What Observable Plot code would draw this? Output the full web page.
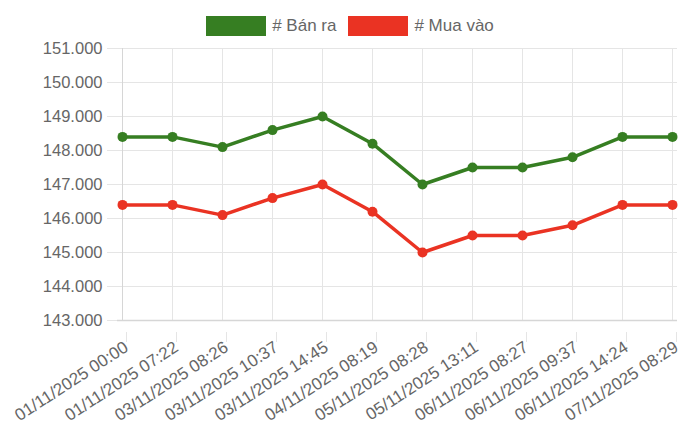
<!DOCTYPE html>
<html><head><meta charset="utf-8">
<script src="https://cdn.jsdelivr.net/npm/d3@7"></script>
<script src="https://cdn.jsdelivr.net/npm/@observablehq/plot@0.6"></script>
<style>
html,body{margin:0;background:#fff;overflow:hidden;font-family:"Liberation Sans",Arial,Helvetica,sans-serif;}
#legend{height:40px;display:flex;justify-content:center;align-items:flex-start;box-sizing:border-box;color:#666;font-size:17px;}
.item{display:flex;align-items:center;margin:16px 6px 0 6px;}
.box{width:60px;height:20px;margin-right:6px;box-sizing:border-box;}
#chart svg{display:block;max-width:none;}
</style></head>
<body>
<div id="legend"></div>
<div id="chart"></div>
<script>
const labels = ["01/11/2025 00:00","01/11/2025 07:22","03/11/2025 08:26","03/11/2025 10:37","03/11/2025 14:45","04/11/2025 08:19","05/11/2025 08:28","05/11/2025 13:11","06/11/2025 08:27","06/11/2025 09:37","06/11/2025 14:24","07/11/2025 08:29"];
const banRa = [148400,148400,148100,148600,149000,148200,147000,147500,147500,147800,148400,148400];
const muaVao = [146400,146400,146100,146600,147000,146200,145000,145500,145500,145800,146400,146400];
const seriesNames = ["# Bán ra","# Mua vào"];
const colors = ["#367e22","#ea3323"];
const yTicks = [143000,144000,145000,146000,147000,148000,149000,150000,151000];

const leg = document.getElementById("legend");
seriesNames.forEach((n,i)=>{
  const it=document.createElement("div");it.className="item";
  const b=document.createElement("div");b.className="box";b.style.background=colors[i];
  const t=document.createElement("span");t.textContent=n;
  it.appendChild(b);it.appendChild(t);leg.appendChild(it);
});

const data = [
  ...labels.map((l,i)=>({label:l,value:banRa[i],series:seriesNames[0]})),
  ...labels.map((l,i)=>({label:l,value:muaVao[i],series:seriesNames[1]}))
];
const fmt = v => d3.format(",.0f")(v).replace(/,/g,".");
const grid = "#e5e5e5";

const chart = Plot.plot({
  width:700, height:402,
  marginTop:8, marginBottom:122, marginLeft:117, marginRight:23,
  style:{fontFamily:'"Liberation Sans",Arial,sans-serif',fontSize:"17px",color:"#666"},
  x:{type:"point",domain:labels,padding:0,range:[117,677]},
  y:{domain:[143000,151000],range:[280,8]},
  color:{domain:seriesNames,range:colors},
  marks:[
    Plot.gridX(labels,{stroke:grid,strokeOpacity:1,y1:143000,y2:151000}),
    Plot.gridY(yTicks,{stroke:grid,strokeOpacity:1}),
    Plot.axisY(yTicks,{tickFormat:fmt,tickSize:10,tickPadding:5,stroke:grid,strokeOpacity:1,fill:"#666",label:null,fontSize:16.5}),
    Plot.axisX(labels,{tickSize:10,tickPadding:3,tickRotate:-33,dx:4,dy:12,stroke:grid,strokeOpacity:1,fill:"#666",label:null,fontSize:17}),
    Plot.ruleY([143000],{stroke:"#d6d6d6",strokeWidth:1.5}),
    Plot.ruleX([labels[0]],{stroke:"#d6d6d6"}),
    Plot.line(data,{x:"label",y:"value",stroke:"series",strokeWidth:3.5}),
    Plot.dot(data,{x:"label",y:"value",fill:"series",r:5})
  ]
});
document.getElementById("chart").appendChild(chart);
</script>
</body></html>
